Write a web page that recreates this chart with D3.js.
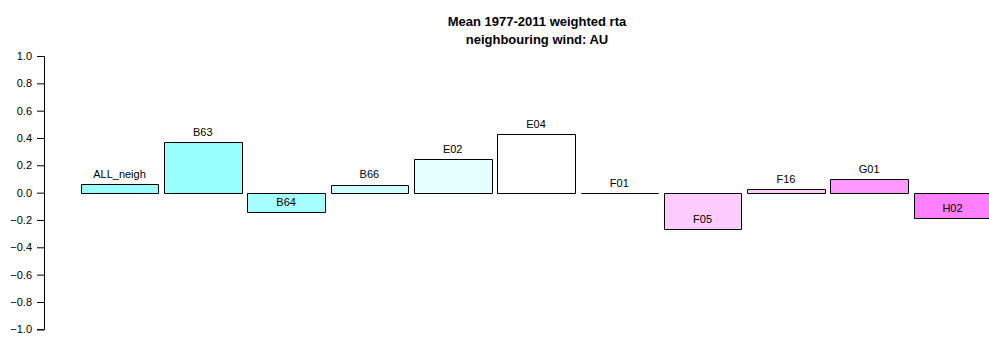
<!DOCTYPE html>
<html><head><meta charset="utf-8">
<script src="https://cdn.jsdelivr.net/npm/d3@7"></script>
<style>body{margin:0;background:#fff}svg{display:block}text{font-family:"Liberation Sans",Arial,sans-serif}</style>
</head><body>
<svg id="c" width="989" height="338"></svg>
<script>
const categories = ["ALL_neigh","B63","B64","B66","E02","E04","F01","F05","F16","G01","H02"];
const values = [0.061,0.369,-0.143,0.059,0.247,0.427,0.0,-0.266,0.027,0.100,-0.187];
const colors = ["#99ffff","#99ffff","#a6ffff","#ccffff","#e6ffff","#ffffff","#ffffff","#ffccff","#ffccff","#ff99ff","#ff80ff"];
const yTicks = [-1.0,-0.8,-0.6,-0.4,-0.2,0.0,0.2,0.4,0.6,0.8,1.0];
const titleLines = ["Mean 1977-2011 weighted rta","neighbouring wind: AU"];

const svg = d3.select("#c");
const y = d3.scaleLinear().domain([-1,1]).range([329.3,56]);
const step = 83.3, bw = 77.6, x0 = 80.7;
const x = d3.scaleLinear().domain([0,1]).range([x0, x0+step]);

const ax = svg.append("g").attr("transform","translate(44,0)")
  .call(d3.axisLeft(y).tickValues(yTicks).tickFormat(d3.format(".1f")).tickSize(7).tickPadding(5));
ax.select(".domain").attr("stroke","#000").attr("stroke-width",1);
ax.selectAll(".tick line").attr("stroke","#000");
ax.selectAll(".tick text").attr("font-size",11).attr("fill","#000").style("font-family","Liberation Sans, Arial, sans-serif");

function barPath(d,i){
  const x1 = Math.round(x(i))+0.5, x2 = Math.round(x(i)+bw)+0.5;
  const ya = Math.round(y(0))+0.5, yb = Math.round(y(d))+0.5;
  return `M${x1},${ya}L${x2},${ya}L${x2},${yb}L${x1},${yb}Z`;
}
const g = svg.append("g");
g.selectAll("path").data(values).join("path")
  .attr("d",barPath)
  .attr("fill",(d,i)=>colors[i]).attr("stroke","#000").attr("stroke-width",1);
g.selectAll("text").data(values).join("text")
  .attr("x",(d,i)=>x(i)+bw/2).attr("y",d=>y(d)-10).attr("dy","0.35em")
  .attr("text-anchor","middle").attr("font-size",11).attr("fill","#000")
  .text((d,i)=>categories[i]);

svg.selectAll("text.title").data(titleLines).join("text").attr("class","title")
  .attr("x",537).attr("y",(d,i)=>21+i*18).attr("dy","0.35em").attr("text-anchor","middle")
  .attr("font-size",13).attr("font-weight","bold").attr("fill","#000").text(d=>d);
</script>
</body></html>
